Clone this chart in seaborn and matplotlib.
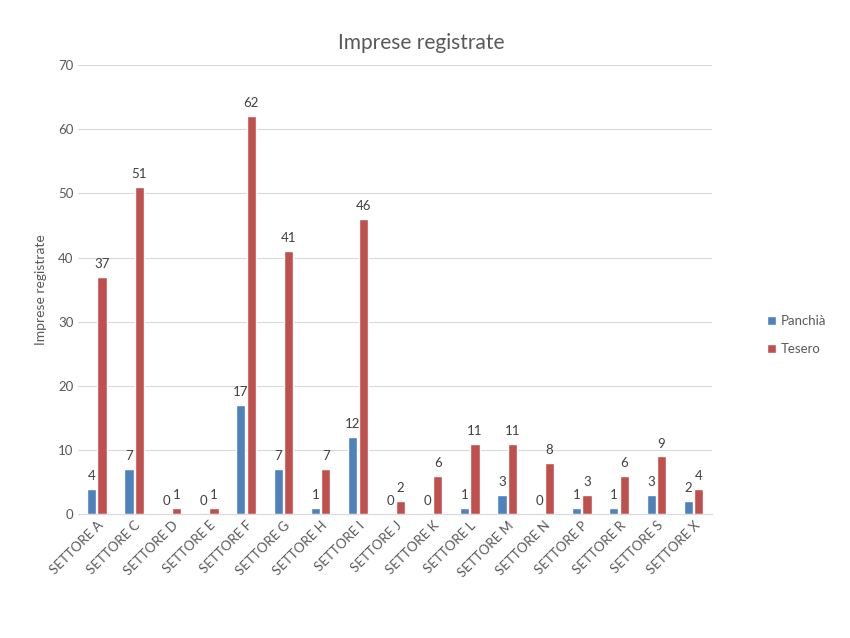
import pandas as pd
import matplotlib.pyplot as plt
import seaborn as sns
from matplotlib.patches import Patch

settori = ["SETTORE A", "SETTORE C", "SETTORE D", "SETTORE E", "SETTORE F",
           "SETTORE G", "SETTORE H", "SETTORE I", "SETTORE J", "SETTORE K",
           "SETTORE L", "SETTORE M", "SETTORE N", "SETTORE P", "SETTORE R",
           "SETTORE S", "SETTORE X"]
panchia = [4, 7, 0, 0, 17, 7, 1, 12, 0, 0, 1, 3, 0, 1, 1, 3, 2]
tesero = [37, 51, 1, 1, 62, 41, 7, 46, 2, 6, 11, 11, 8, 3, 6, 9, 4]
comuni = ["Panchià", "Tesero"]
colori = ["#4F81BD", "#C0504D"]

df = pd.DataFrame({
    "Settore": settori * 2,
    "Comune": [comuni[0]] * len(settori) + [comuni[1]] * len(settori),
    "Imprese": panchia + tesero,
})

sns.set_style("white")
plt.rcParams['font.family'] = ['Lato', 'DejaVu Sans']
text_col = "#595959"

fig = plt.figure(figsize=(8.5, 6.38), dpi=100)
ax = fig.add_axes([0.092, 0.194, 0.746, 0.704])

sns.barplot(data=df, x="Settore", y="Imprese", hue="Comune", palette=colori,
            width=0.56, gap=0.12, ax=ax, legend=False, saturation=1)

for cont in ax.containers:
    ax.bar_label(cont, padding=5, fontsize=9.5, color="#404040")

ax.set_ylim(0, 70)
ax.set_yticks(range(0, 71, 10))
ax.set_xlim(-0.5, len(settori) - 0.5)
ax.yaxis.grid(True, color="#D9D9D9", linewidth=0.8)
ax.set_axisbelow(True)
for s in ["top", "right", "left"]:
    ax.spines[s].set_visible(False)
ax.spines["bottom"].set_color("#D9D9D9")
ax.tick_params(axis="both", length=0, labelsize=9.5, colors=text_col)
plt.setp(ax.get_xticklabels(), rotation=45, ha="right", rotation_mode="anchor")
ax.set_xlabel("")
ax.set_ylabel("Imprese registrate", fontsize=10, color=text_col, labelpad=8)
fig.text(0.495, 0.932, "Imprese registrate", ha="center", va="center",
         fontsize=15, color=text_col)

handles = [Patch(facecolor=c, label=l) for c, l in zip(colori, comuni)]
fig.legend(handles=handles, loc="center left", bbox_to_anchor=(0.888, 0.475),
           frameon=False, fontsize=9.5, handlelength=0.7, handleheight=0.7,
           handletextpad=0.4, labelspacing=1.2, labelcolor=text_col)

fig.savefig("out.png", dpi=100)
